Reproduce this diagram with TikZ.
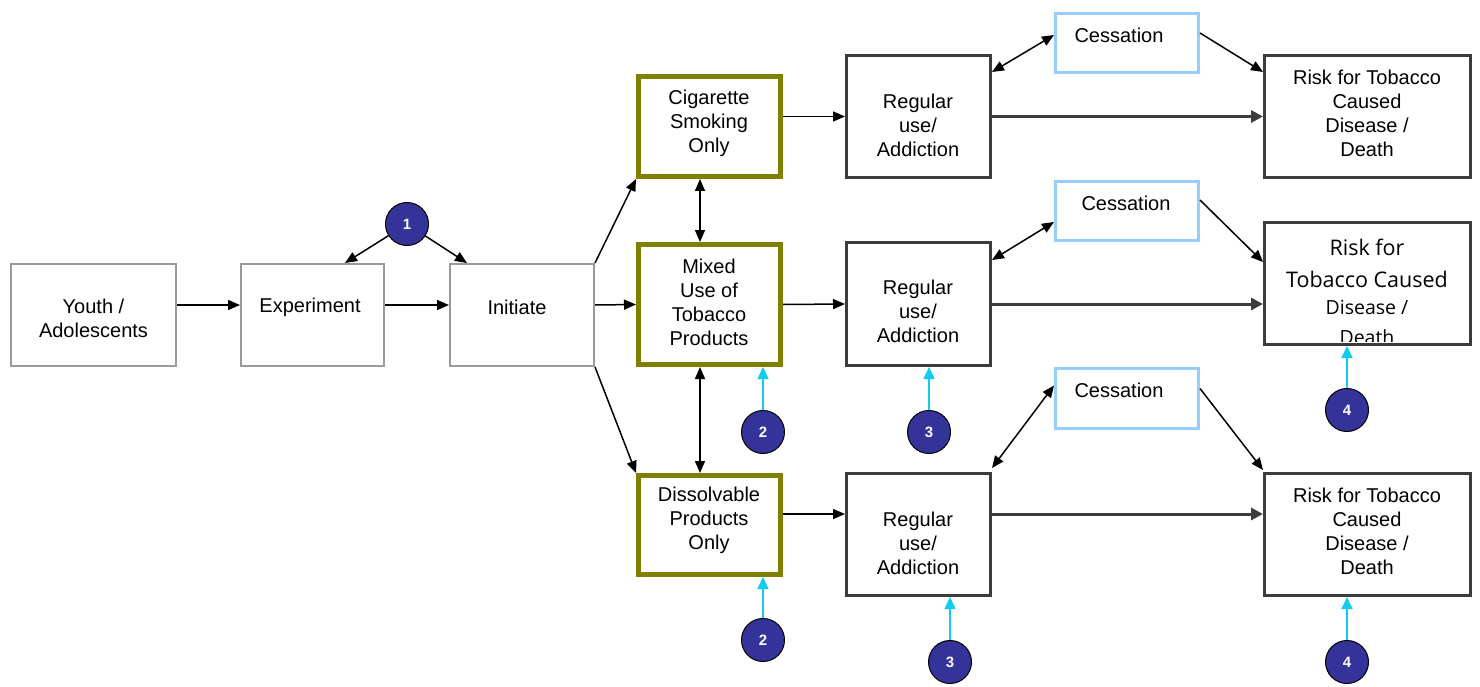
\documentclass[tikz,border=0pt]{standalone}
\usepackage{fontspec}
\setmainfont{Liberation Sans}
\newfontfamily\osans{Open Sans}
\usetikzlibrary{arrows.meta}
\definecolor{olivec}{HTML}{808000}
\definecolor{darkc}{HTML}{3C3C3C}
\definecolor{grayc}{HTML}{9A9A9A}
\definecolor{cessc}{HTML}{99CCFF}
\definecolor{markc}{HTML}{333399}
\definecolor{cyanc}{HTML}{11CCEE}
\begin{document}
\begin{tikzpicture}[x=1pt,y=-1pt,
  graybox/.style={draw=grayc,line width=2pt,inner sep=0pt},
  olivebox/.style={draw=olivec,line width=5pt,inner sep=0pt},
  darkbox/.style={draw=darkc,line width=3pt,inner sep=0pt},
  cessbox/.style={draw=cessc,line width=3pt,inner sep=0pt},
  txt/.style={font=\fontsize{20}{24}\selectfont,align=center,inner sep=0pt},
  marker/.style={circle,fill=markc,draw=black,line width=1pt,minimum size=43pt,inner sep=0pt,text=white,font=\bfseries\fontsize{15}{15}\selectfont},
  conn/.style={draw=black,line width=1.5pt,-{Triangle[length=12pt,width=10pt]}},
  dconn/.style={draw=black,line width=1.5pt,{Triangle[length=12pt,width=10pt]}-{Triangle[length=12pt,width=10pt]}},
  longconn/.style={draw=darkc,line width=3pt,-{Triangle[length=12pt,width=12pt]}},
  cyconn/.style={draw=cyanc,line width=1.5pt,-{Triangle[length=12pt,width=11pt]}}
]
\useasboundingbox (0,0) rectangle (1480,687);

% boxes
\node[graybox,minimum width=165pt,minimum height=102pt] (youth) at (93.5,315) {};
\node[graybox,minimum width=143pt,minimum height=102pt] (exp) at (312.5,315) {};
\node[graybox,minimum width=144pt,minimum height=102pt] (init) at (522,315) {};

\node[olivebox,minimum width=142pt,minimum height=100pt] (cig) at (709.5,126.5) {};
\node[olivebox,minimum width=142pt,minimum height=120pt] (mix) at (709.5,304.5) {};
\node[olivebox,minimum width=142pt,minimum height=99pt] (diss) at (709.5,525) {};

\node[darkbox,minimum width=144pt,minimum height=122pt] (reg1) at (918.5,116.5) {};
\node[darkbox,minimum width=144pt,minimum height=123pt] (reg2) at (918.5,304) {};
\node[darkbox,minimum width=144pt,minimum height=122pt] (reg3) at (918.5,534.5) {};

\node[cessbox,minimum width=143pt,minimum height=59pt] (cess1) at (1127,43) {};
\node[cessbox,minimum width=143pt,minimum height=59pt] (cess2) at (1127,211) {};
\node[cessbox,minimum width=143pt,minimum height=60pt] (cess3) at (1127,398.5) {};

\node[darkbox,minimum width=206pt,minimum height=122pt] (risk1) at (1367.5,116.5) {};
\node[darkbox,minimum width=206pt,minimum height=122pt] (risk2) at (1367.5,283.5) {};
\node[darkbox,minimum width=206pt,minimum height=122pt] (risk3) at (1367.5,534.5) {};

% texts
\node[txt] (tyouth) at (93.5,318) {Youth /\\Adolescents};
\node[txt] (texp) at (310,307) {Experiment};
\node[txt] (tinit) at (517,307) {Initiate};
\node[txt] (tcig) at (709,123) {Cigarette\\Smoking\\Only};
\node[txt] (tmix) at (709,302) {Mixed\\Use of\\Tobacco\\Products};
\node[txt] (tdiss) at (709,520) {Dissolvable\\Products\\Only};
\node[txt] (treg1) at (918,125) {Regular\\use/\\Addiction};
\node[txt] (treg2) at (918,311) {Regular\\use/\\Addiction};
\node[txt] (treg3) at (918,543) {Regular\\use/\\Addiction};
\node[txt] (tcess1) at (1119,35) {Cessation};
\node[txt] (tcess2) at (1126,203) {Cessation};
\node[txt] (tcess3) at (1119,390) {Cessation};
\node[txt] (trisk1) at (1367,113) {Risk for Tobacco\\Caused\\Disease /\\Death};
\node[txt] (trisk3) at (1367,531) {Risk for Tobacco\\Caused\\Disease /\\Death};
\begin{scope}
  \clip (1265,223) rectangle (1470,341);
  \node[inner sep=0pt,font=\osans\fontsize{21.5}{24}\selectfont] (trisk2a) at (1367,247) {Risk for};
  \node[inner sep=0pt,font=\osans\fontsize{21.5}{24}\selectfont] (trisk2b) at (1367,279) {Tobacco Caused};
  \node[inner sep=0pt,font=\osans\fontsize{19.5}{22}\selectfont] (trisk2c) at (1367,307) {Disease /};
  \node[inner sep=0pt,font=\osans\fontsize{19.5}{22}\selectfont,anchor=base] (trisk2d) at (1367,344) {Death};
\end{scope}

% markers
\node[marker] (m1) at (407,224) {1};
\node[marker] (m2a) at (763,432) {2};
\node[marker] (m3a) at (929,432) {3};
\node[marker] (m4a) at (1347,410) {4};
\node[marker] (m2b) at (763,640) {2};
\node[marker] (m3b) at (950,662) {3};
\node[marker] (m4b) at (1347,662) {4};

% left connectors
\draw[conn] ([yshift=10pt]youth.east) -- ([yshift=10pt]exp.west);
\draw[conn] ([yshift=10pt]exp.east) -- ([yshift=10pt]init.west);
\draw[conn] (m1) -- ([xshift=32.5pt]exp.north);
\draw[conn] (m1) -- ([xshift=-55pt]init.north);
\draw[conn] ([yshift=10pt]init.east) -- ([yshift=0pt]mix.west);
\draw[conn] (init.north east) -- (cig.south west);
\draw[conn] (init.south east) -- (diss.north west);
\draw[dconn] ([xshift=-9.5pt]cig.south) -- ([xshift=-9.5pt]mix.north);
\draw[dconn] ([xshift=-9.5pt]mix.south) -- ([xshift=-9.5pt]diss.north);
\draw[conn] (cig.east |- reg1.west) -- (reg1.west);
\draw[conn] (mix.east) -- (reg2.west);
\draw[conn] ([yshift=11pt]diss.east) -- ([yshift=20.5pt]reg3.west);

% long connectors
\draw[longconn] (reg1.east) -- (risk1.west);
\draw[longconn] (reg2.east) -- (risk2.west |- reg2.east);
\draw[longconn] ([yshift=20.5pt]reg3.east) -- ([yshift=20.5pt]risk3.west);

% cessation connectors
\draw[dconn] ([yshift=-18pt]reg1.north east) -- ([yshift=8pt]cess1.west);
\draw[conn] ([yshift=10pt]cess1.east) -- ([yshift=-18pt]risk1.north west);
\draw[dconn] ([yshift=-19pt]reg2.north east) -- ([yshift=-11pt]cess2.west);
\draw[conn] ([yshift=11pt]cess2.east) -- ([yshift=-41pt]risk2.north west);
\draw[dconn] ([yshift=4pt]reg3.north east) -- ([yshift=13pt]cess3.west);
\draw[conn] ([yshift=10pt]cess3.east) -- ([yshift=2pt]risk3.north west);

% marker connectors
\draw[cyconn] (m2a) -- (m2a |- mix.south);
\draw[cyconn] (m3a) -- (m3a |- reg2.south);
\draw[cyconn] (m4a) -- (m4a |- risk2.south);
\draw[cyconn] (m2b) -- (m2b |- diss.south);
\draw[cyconn] (m3b) -- (m3b |- reg3.south);
\draw[cyconn] (m4b) -- (m4b |- risk3.south);
\end{tikzpicture}
\end{document}
